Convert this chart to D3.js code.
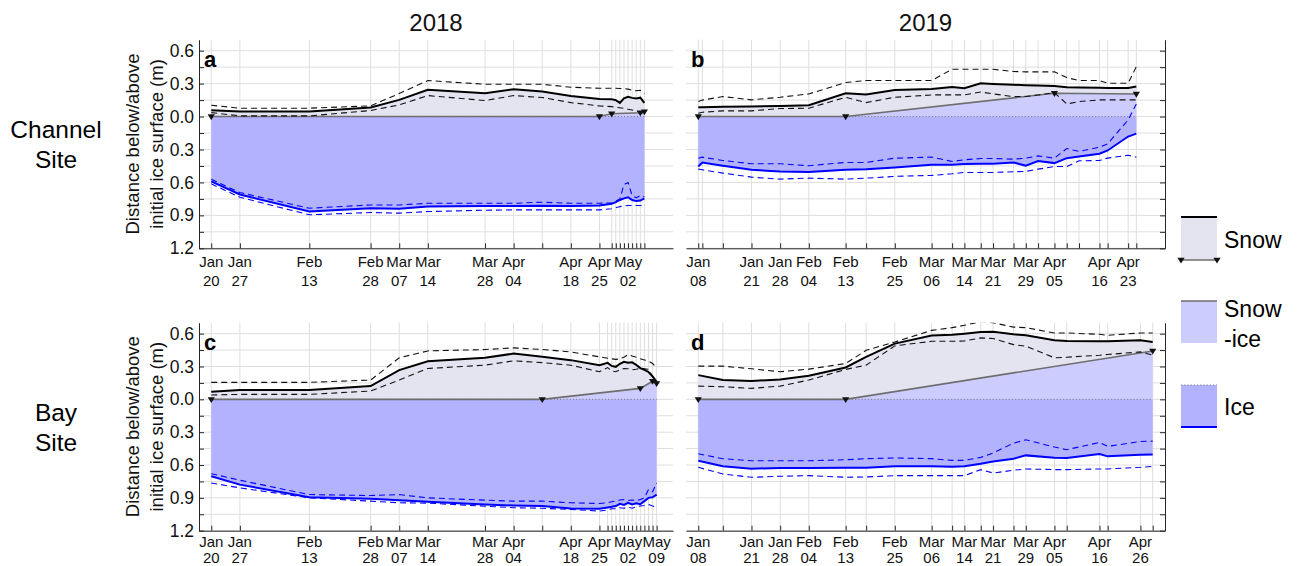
<!DOCTYPE html>
<html>
<head>
<meta charset="utf-8">
<script src="https://cdn.jsdelivr.net/npm/d3@7"></script>
<style>
  body { margin: 0; background: #fff; }
  svg { display: block; font-family: "Liberation Sans", Arial, sans-serif; }
</style>
</head>
<body>
<svg id="chart" width="1299" height="566"></svg>
<script>
// ---------- Channel site, 2018 ----------
const channel2018Dates = ["2018-01-20","2018-01-27","2018-02-13","2018-02-28","2018-03-07","2018-03-14","2018-03-28","2018-04-04","2018-04-11","2018-04-18","2018-04-25","2018-04-28","2018-04-29","2018-04-30","2018-05-01","2018-05-02","2018-05-03","2018-05-04","2018-05-05","2018-05-06"];
const channel2018Snow      = [0.058,0.046,0.046,0.082,0.152,0.243,0.213,0.249,0.228,0.188,0.161,0.158,0.150,0.125,0.165,0.180,0.170,0.165,0.172,0.125];
const channel2018SnowUpper = [0.103,0.076,0.076,0.097,0.210,0.328,0.294,0.294,0.294,0.267,0.258,0.258,0.258,0.255,0.255,0.250,0.240,0.235,0.240,0.210];
const channel2018SnowLower = [0.036,0.006,0.006,0.055,0.106,0.191,0.146,0.191,0.173,0.127,0.097,0.090,0.085,0.080,0.075,0.067,0.060,0.050,0.040,0.015];
const channel2018Ice       = [-0.590,-0.710,-0.865,-0.835,-0.840,-0.820,-0.815,-0.815,-0.812,-0.815,-0.810,-0.795,-0.780,-0.760,-0.745,-0.735,-0.760,-0.770,-0.765,-0.745];
const channel2018IceUpper  = [-0.571,-0.692,-0.835,-0.805,-0.805,-0.790,-0.790,-0.790,-0.780,-0.790,-0.790,-0.785,-0.770,-0.750,-0.620,-0.600,-0.720,-0.740,-0.720,-0.730];
const channel2018IceLower  = [-0.613,-0.735,-0.895,-0.874,-0.880,-0.865,-0.853,-0.850,-0.850,-0.850,-0.850,-0.840,-0.830,-0.820,-0.815,-0.810,-0.810,-0.810,-0.810,-0.810];
const channel2018SnowIceDates = ["2018-01-20","2018-04-25","2018-04-28","2018-05-05","2018-05-06"];
const channel2018SnowIce      = [0, 0, 0.025, 0.035, 0.045];
const channel2018Labels = ["2018-01-20","2018-01-27","2018-02-13","2018-02-28","2018-03-07","2018-03-14","2018-03-28","2018-04-04","2018-04-18","2018-04-25","2018-05-02"];

// ---------- Channel site, 2019 ----------
const channel2019Dates = ["2019-01-08","2019-01-09","2019-01-14","2019-01-21","2019-01-28","2019-02-04","2019-02-13","2019-02-18","2019-02-25","2019-03-06","2019-03-11","2019-03-14","2019-03-18","2019-03-21","2019-03-26","2019-03-29","2019-04-01","2019-04-05","2019-04-08","2019-04-11","2019-04-16","2019-04-18","2019-04-23","2019-04-25"];
const channel2019Snow      = [0.085,0.085,0.090,0.091,0.097,0.103,0.212,0.200,0.242,0.252,0.270,0.258,0.303,0.297,0.290,0.285,0.282,0.279,0.267,0.265,0.262,0.261,0.261,0.273];
const channel2019SnowUpper = [0.137,0.150,0.182,0.152,0.176,0.206,0.310,0.328,0.328,0.328,0.431,0.431,0.431,0.431,0.410,0.407,0.407,0.407,0.355,0.328,0.328,0.303,0.303,0.455];
const channel2019SnowLower = [0.030,0.039,0.052,0.052,0.073,0.076,0.176,0.127,0.176,0.197,0.197,0.197,0.224,0.206,0.182,0.182,0.197,0.218,0.115,0.136,0.152,0.152,0.152,0.152];
const channel2019Ice       = [-0.455,-0.418,-0.448,-0.485,-0.500,-0.506,-0.485,-0.479,-0.464,-0.439,-0.439,-0.433,-0.430,-0.430,-0.418,-0.448,-0.406,-0.424,-0.379,-0.364,-0.339,-0.309,-0.182,-0.155];
const channel2019IceUpper  = [-0.379,-0.370,-0.400,-0.430,-0.430,-0.448,-0.418,-0.418,-0.379,-0.370,-0.409,-0.394,-0.382,-0.382,-0.388,-0.379,-0.358,-0.379,-0.291,-0.318,-0.279,-0.248,-0.030,0.115];
const channel2019IceLower  = [-0.479,-0.485,-0.515,-0.552,-0.570,-0.561,-0.570,-0.561,-0.545,-0.536,-0.521,-0.509,-0.509,-0.509,-0.503,-0.500,-0.479,-0.455,-0.455,-0.403,-0.400,-0.379,-0.352,-0.370];
const channel2019SnowIceDates = ["2019-01-08","2019-02-13","2019-04-05","2019-04-25"];
const channel2019SnowIce      = [0, 0, 0.212, 0.205];
const channel2019Labels = ["2019-01-08","2019-01-21","2019-01-28","2019-02-04","2019-02-13","2019-02-25","2019-03-06","2019-03-14","2019-03-21","2019-03-29","2019-04-05","2019-04-16","2019-04-23"];

// ---------- Bay site, 2018 ----------
const bay2018Dates = ["2018-01-20","2018-01-27","2018-02-13","2018-02-28","2018-03-07","2018-03-14","2018-03-28","2018-04-04","2018-04-11","2018-04-18","2018-04-25","2018-04-27","2018-04-28","2018-04-29","2018-04-30","2018-05-01","2018-05-02","2018-05-03","2018-05-04","2018-05-05","2018-05-06","2018-05-07","2018-05-08","2018-05-09"];
const bay2018Snow      = [0.070,0.085,0.085,0.121,0.267,0.348,0.379,0.418,0.390,0.358,0.312,0.333,0.305,0.297,0.325,0.342,0.335,0.338,0.315,0.285,0.270,0.250,0.210,0.160];
const bay2018SnowUpper = [0.155,0.155,0.155,0.176,0.379,0.442,0.455,0.470,0.455,0.433,0.388,0.375,0.370,0.365,0.370,0.385,0.409,0.395,0.385,0.370,0.360,0.350,0.327,0.290];
const bay2018SnowLower = [0.040,0.045,0.045,0.076,0.176,0.282,0.312,0.352,0.335,0.312,0.252,0.290,0.260,0.252,0.270,0.282,0.280,0.270,0.275,0.282,0.280,0.275,0.206,0.190];
const bay2018Ice       = [-0.703,-0.779,-0.894,-0.909,-0.921,-0.936,-0.960,-0.970,-0.975,-0.997,-1.000,-0.988,-0.982,-0.975,-0.955,-0.965,-0.945,-0.960,-0.950,-0.958,-0.930,-0.900,-0.895,-0.870];
const bay2018IceUpper  = [-0.679,-0.739,-0.870,-0.879,-0.870,-0.900,-0.921,-0.930,-0.930,-0.945,-0.952,-0.945,-0.935,-0.930,-0.920,-0.915,-0.925,-0.920,-0.925,-0.915,-0.900,-0.824,-0.845,-0.764];
const bay2018IceLower  = [-0.764,-0.809,-0.900,-0.930,-0.945,-0.948,-0.976,-0.990,-0.995,-1.006,-1.021,-1.010,-1.000,-1.000,-0.990,-0.995,-0.985,-0.995,-0.980,-0.975,-0.970,-0.960,-0.975,-0.985];
const bay2018SnowIceDates = ["2018-01-20","2018-04-11","2018-05-05","2018-05-08","2018-05-09"];
const bay2018SnowIce      = [0, 0, 0.100, 0.165, 0.145];
const bay2018Labels = ["2018-01-20","2018-01-27","2018-02-13","2018-02-28","2018-03-07","2018-03-14","2018-03-28","2018-04-04","2018-04-18","2018-04-25","2018-05-02","2018-05-09"];

// ---------- Bay site, 2019 ----------
const bay2019Dates = ["2019-01-08","2019-01-14","2019-01-21","2019-01-28","2019-02-04","2019-02-13","2019-02-18","2019-02-25","2019-03-06","2019-03-11","2019-03-14","2019-03-18","2019-03-21","2019-03-26","2019-03-29","2019-04-05","2019-04-08","2019-04-16","2019-04-18","2019-04-26","2019-04-29"];
const bay2019Snow      = [0.221,0.176,0.167,0.182,0.215,0.291,0.388,0.509,0.582,0.591,0.600,0.615,0.618,0.594,0.585,0.539,0.533,0.530,0.530,0.539,0.524];
const bay2019SnowUpper = [0.303,0.303,0.279,0.252,0.276,0.327,0.448,0.524,0.630,0.655,0.676,0.710,0.700,0.660,0.655,0.606,0.606,0.594,0.585,0.606,0.606];
const bay2019SnowLower = [0.121,0.115,0.100,0.121,0.176,0.273,0.312,0.488,0.530,0.530,0.533,0.561,0.555,0.500,0.485,0.379,0.385,0.403,0.410,0.433,0.403];
const bay2019Ice       = [-0.561,-0.612,-0.633,-0.627,-0.627,-0.624,-0.624,-0.612,-0.612,-0.615,-0.612,-0.588,-0.567,-0.542,-0.512,-0.533,-0.536,-0.500,-0.521,-0.506,-0.503];
const bay2019IceUpper  = [-0.497,-0.542,-0.561,-0.561,-0.561,-0.552,-0.542,-0.536,-0.542,-0.558,-0.558,-0.530,-0.490,-0.400,-0.370,-0.436,-0.460,-0.394,-0.430,-0.385,-0.382];
const bay2019IceLower  = [-0.621,-0.682,-0.712,-0.703,-0.697,-0.712,-0.709,-0.697,-0.697,-0.697,-0.697,-0.642,-0.673,-0.648,-0.636,-0.642,-0.642,-0.636,-0.636,-0.621,-0.612];
const bay2019SnowIceDates = ["2019-01-08","2019-02-13","2019-04-29"];
const bay2019SnowIce      = [0, 0, 0.442];
const bay2019Labels = ["2019-01-08","2019-01-21","2019-01-28","2019-02-04","2019-02-13","2019-02-25","2019-03-06","2019-03-14","2019-03-21","2019-03-29","2019-04-05","2019-04-16","2019-04-26"];

// ---------- shared axis values ----------
const depthTicks = [-1.2,-1.05,-0.9,-0.75,-0.6,-0.45,-0.3,-0.15,0,0.15,0.3,0.45,0.6];
const depthLabelled = [-1.2,-0.9,-0.6,-0.3,0,0.3,0.6];
const depthDomain = [-1.2, 0.7];
const range2018 = ["2018-01-17","2018-05-13"];
const range2019 = ["2019-01-05","2019-05-02"];
const yearTitles = ["2018","2019"];
const siteTitles = [["Channel","Site"],["Bay","Site"]];
const panelLetters = ["a","b","c","d"];
const legendNames = [["Snow"],["Snow","-ice"],["Ice"]];

// ---------- drawing ----------
const parse = d3.utcParse("%Y-%m-%d");
const fmtKey = d3.utcFormat("%Y-%m-%d");
const fmtMonth = d3.utcFormat("%b");
const fmtDay = d3.utcFormat("%d");
const svg = d3.select("#chart");

const COLORS = {
  snowFill: "#e4e4f0",
  snowIceFill: "#ccccff",
  iceFill: "#b2b2ff",
  grid: "#dedede",
  axis: "#262626",
  snowIceLine: "#6e6e6e",
  blue: "#0000ff"
};

const columns = [
  { left: 199, right: 673, range: range2018 },
  { left: 686, right: 1165, range: range2019 }
];
// tick label baselines (month, day) are given relative to the x axis of each row
const rows = [
  { top: 39.7, bottom: 248.3, monthDy: 19, dayDy: 38 },
  { top: 322.7, bottom: 530.7, monthDy: 16, dayDy: 32 }
];

const panels = [
  { col: 0, row: 0, letter: panelLetters[0], dates: channel2018Dates, snow: channel2018Snow, snowUp: channel2018SnowUpper, snowLo: channel2018SnowLower,
    ice: channel2018Ice, iceUp: channel2018IceUpper, iceLo: channel2018IceLower, siDates: channel2018SnowIceDates, si: channel2018SnowIce, labels: channel2018Labels },
  { col: 1, row: 0, letter: panelLetters[1], dates: channel2019Dates, snow: channel2019Snow, snowUp: channel2019SnowUpper, snowLo: channel2019SnowLower,
    ice: channel2019Ice, iceUp: channel2019IceUpper, iceLo: channel2019IceLower, siDates: channel2019SnowIceDates, si: channel2019SnowIce, labels: channel2019Labels },
  { col: 0, row: 1, letter: panelLetters[2], dates: bay2018Dates, snow: bay2018Snow, snowUp: bay2018SnowUpper, snowLo: bay2018SnowLower,
    ice: bay2018Ice, iceUp: bay2018IceUpper, iceLo: bay2018IceLower, siDates: bay2018SnowIceDates, si: bay2018SnowIce, labels: bay2018Labels },
  { col: 1, row: 1, letter: panelLetters[3], dates: bay2019Dates, snow: bay2019Snow, snowUp: bay2019SnowUpper, snowLo: bay2019SnowLower,
    ice: bay2019Ice, iceUp: bay2019IceUpper, iceLo: bay2019IceLower, siDates: bay2019SnowIceDates, si: bay2019SnowIce, labels: bay2019Labels }
];

const trianglePath = "M-3.6,-2.2L3.6,-2.2L0,3.6Z";

panels.forEach((p, i) => {
  const col = columns[p.col], row = rows[p.row];
  const x = d3.scaleUtc().domain(col.range.map(parse)).range([col.left, col.right]);
  const y = d3.scaleLinear().domain(depthDomain).range([row.bottom, row.top]);
  const dates = p.dates.map(parse);
  const series = vals => vals.map((v, k) => ({ date: dates[k], v }));
  const g = svg.append("g");

  const clipId = "clip" + i;
  g.append("clipPath").attr("id", clipId).append("rect")
    .attr("x", col.left).attr("y", row.top)
    .attr("width", col.right - col.left).attr("height", row.bottom - row.top);

  // grid
  const grid = g.append("g").attr("stroke", COLORS.grid).attr("stroke-width", 1);
  grid.selectAll("line.h").data(depthTicks).join("line")
    .attr("x1", col.left).attr("x2", col.right)
    .attr("y1", d => y(d)).attr("y2", d => y(d));
  grid.selectAll("line.v").data(dates).join("line")
    .attr("x1", d => x(d)).attr("x2", d => x(d))
    .attr("y1", row.top).attr("y2", row.bottom);

  const body = g.append("g").attr("clip-path", `url(#${clipId})`);
  const line = d3.line().x(d => x(d.date)).y(d => y(d.v));
  const area = d3.area().x(d => x(d.date)).y0(y(0)).y1(d => y(d.v));

  const siData = p.siDates.map((d, k) => ({ date: parse(d), v: p.si[k] }));

  // filled layers
  body.append("path").datum(series(p.snow)).attr("d", area).attr("fill", COLORS.snowFill);
  body.append("path").datum(siData).attr("d", area).attr("fill", COLORS.snowIceFill);
  body.append("path").datum(series(p.ice)).attr("d", area).attr("fill", COLORS.iceFill);

  // initial ice surface
  body.append("line")
    .attr("x1", x(dates[0])).attr("x2", x(dates[dates.length - 1]))
    .attr("y1", y(0)).attr("y2", y(0))
    .attr("stroke", "#7a7a8a").attr("stroke-width", 1).attr("stroke-dasharray", "1.2,2");

  // snow-ice surface
  body.append("path").datum(siData).attr("d", line)
    .attr("fill", "none").attr("stroke", COLORS.snowIceLine).attr("stroke-width", 1.6);

  // snow range and mean
  [p.snowUp, p.snowLo].forEach(vals => {
    body.append("path").datum(series(vals)).attr("d", line)
      .attr("fill", "none").attr("stroke", "#111").attr("stroke-width", 1.1)
      .attr("stroke-dasharray", "6,4");
  });
  body.append("path").datum(series(p.snow)).attr("d", line)
    .attr("fill", "none").attr("stroke", "#000").attr("stroke-width", 2);

  // ice range and mean
  [p.iceUp, p.iceLo].forEach(vals => {
    body.append("path").datum(series(vals)).attr("d", line)
      .attr("fill", "none").attr("stroke", COLORS.blue).attr("stroke-width", 1.1)
      .attr("stroke-dasharray", "6,4");
  });
  body.append("path").datum(series(p.ice)).attr("d", line)
    .attr("fill", "none").attr("stroke", COLORS.blue).attr("stroke-width", 2);

  // snow-ice markers
  g.selectAll("path.mk").data(siData).join("path")
    .attr("d", trianglePath)
    .attr("transform", d => `translate(${x(d.date)},${y(d.v)})`)
    .attr("fill", "#111");

  // axes
  const labelled = new Set(p.labels);
  const xAxis = d3.axisBottom(x).tickValues(dates).tickSize(-5).tickSizeOuter(0).tickFormat("");
  const xg = g.append("g").attr("transform", `translate(0,${row.bottom})`).call(xAxis);
  xg.select(".domain").attr("stroke", COLORS.axis);
  xg.selectAll(".tick line").attr("stroke", COLORS.axis);
  const lab = g.append("g").attr("font-size", 15).attr("fill", "#111").attr("text-anchor", "middle");
  dates.filter(d => labelled.has(fmtKey(d))).forEach(d => {
    lab.append("text").attr("x", x(d)).attr("y", row.bottom + row.monthDy).text(fmtMonth(d));
    lab.append("text").attr("x", x(d)).attr("y", row.bottom + row.dayDy).text(fmtDay(d));
  });

  const fmtDepth = d => depthLabelled.some(v => Math.abs(v - d) < 1e-6) ? Math.abs(d).toFixed(1) : "";
  if (p.col === 0) {
    const yAxis = d3.axisLeft(y).tickValues(depthTicks).tickSize(-5).tickSizeOuter(0).tickPadding(5).tickFormat(fmtDepth);
    const yg = g.append("g").attr("transform", `translate(${col.left},0)`).call(yAxis);
    yg.select(".domain").attr("stroke", COLORS.axis);
    yg.selectAll(".tick line").attr("stroke", COLORS.axis);
    yg.selectAll(".tick text").attr("font-size", 17.5).attr("fill", "#111")
      .attr("font-family", "'Liberation Sans', Arial, sans-serif");
    // axis title
    const cy = (row.top + row.bottom) / 2;
    const yt = g.append("text").attr("transform", `translate(${col.left - 66},${cy}) rotate(-90)`)
      .attr("text-anchor", "middle").attr("font-size", 18.5).attr("fill", "#111");
    yt.append("tspan").attr("x", 0).attr("dy", "0.35em").text("Distance below/above");
    yt.append("tspan").attr("x", 0).attr("dy", 24).text("initial ice surface (m)");
  } else {
    const yAxis = d3.axisRight(y).tickValues(depthTicks).tickSize(-5).tickSizeOuter(0).tickFormat("");
    const yg = g.append("g").attr("transform", `translate(${col.right},0)`).call(yAxis);
    yg.select(".domain").attr("stroke", COLORS.axis);
    yg.selectAll(".tick line").attr("stroke", COLORS.axis);
  }

  // panel letter
  g.append("text").attr("x", col.left + 5).attr("y", row.top + 27)
    .attr("font-size", 22).attr("font-weight", "bold").attr("fill", "#000").text(p.letter);
});

// column titles
yearTitles.forEach((t, k) => {
  const c = columns[k];
  svg.append("text").attr("x", (c.left + c.right) / 2).attr("y", 31)
    .attr("text-anchor", "middle").attr("font-size", 24).attr("fill", "#111").text(t);
});

// row titles
siteTitles.forEach((lines, k) => {
  const r = rows[k];
  const t = svg.append("text").attr("text-anchor", "middle").attr("font-size", 24.5).attr("fill", "#000");
  lines.forEach((s, j) => {
    t.append("tspan").attr("x", 56).attr("y", (r.top + r.bottom) / 2 - 6 + j * 30).text(s);
  });
});

// legend
const lg = svg.append("g");
const sw = { x: 1181, w: 36 };
// snow
lg.append("rect").attr("x", sw.x).attr("y", 217).attr("width", sw.w).attr("height", 43).attr("fill", COLORS.snowFill);
lg.append("line").attr("x1", sw.x).attr("x2", sw.x + sw.w).attr("y1", 217).attr("y2", 217).attr("stroke", "#000").attr("stroke-width", 2);
lg.append("line").attr("x1", sw.x).attr("x2", sw.x + sw.w).attr("y1", 260).attr("y2", 260).attr("stroke", COLORS.snowIceLine).attr("stroke-width", 1.6);
[sw.x, sw.x + sw.w].forEach(xx => lg.append("path").attr("d", trianglePath).attr("transform", `translate(${xx},260)`).attr("fill", "#111"));
// snow-ice
lg.append("rect").attr("x", sw.x).attr("y", 301).attr("width", sw.w).attr("height", 42).attr("fill", COLORS.snowIceFill);
lg.append("line").attr("x1", sw.x).attr("x2", sw.x + sw.w).attr("y1", 301).attr("y2", 301).attr("stroke", COLORS.snowIceLine).attr("stroke-width", 1.6);
// ice
lg.append("rect").attr("x", sw.x).attr("y", 385).attr("width", sw.w).attr("height", 42).attr("fill", COLORS.iceFill);
lg.append("line").attr("x1", sw.x).attr("x2", sw.x + sw.w).attr("y1", 385).attr("y2", 385).attr("stroke", "#7a7a8a").attr("stroke-width", 1).attr("stroke-dasharray", "1.2,2");
lg.append("line").attr("x1", sw.x).attr("x2", sw.x + sw.w).attr("y1", 427).attr("y2", 427).attr("stroke", COLORS.blue).attr("stroke-width", 2);

const legendBaselines = [[248], [317, 347], [415]];
legendNames.forEach((lines, k) => {
  const t = lg.append("text").attr("font-size", 23).attr("fill", "#000");
  lines.forEach((s, j) => t.append("tspan").attr("x", 1224).attr("y", legendBaselines[k][j]).text(s));
});
</script>
</body>
</html>
